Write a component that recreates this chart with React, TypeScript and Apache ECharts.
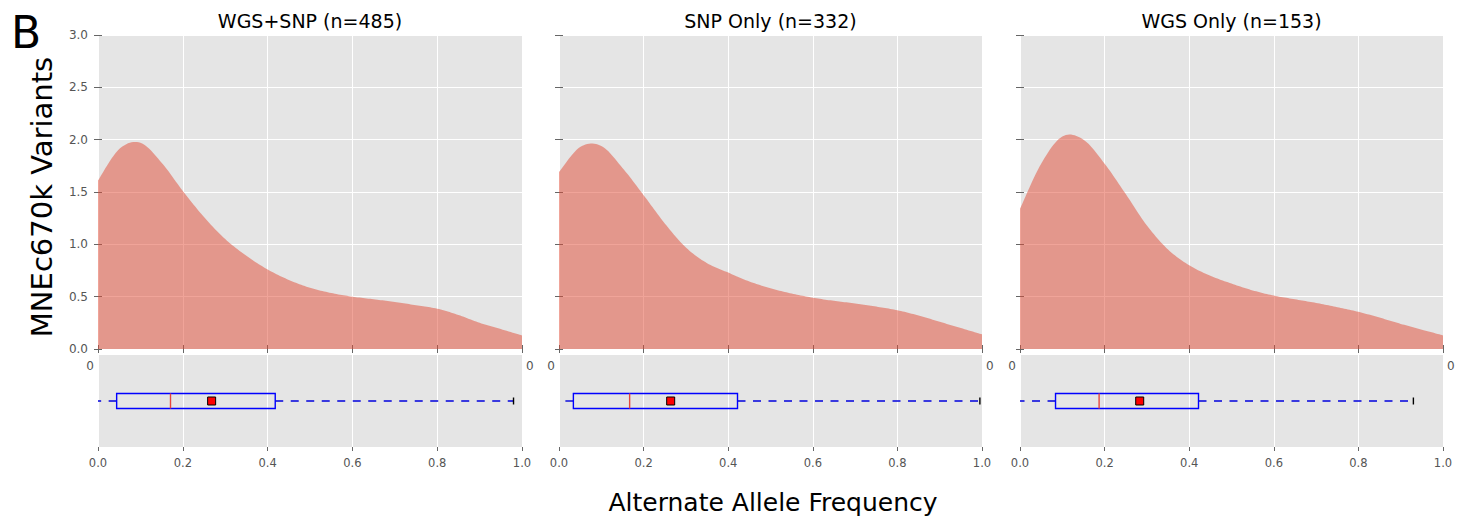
import React, { useEffect, useRef } from "react";
import * as echarts from "echarts";

// ---- data ----
const panelTitles = ["WGS+SNP (n=485)", "SNP Only (n=332)", "WGS Only (n=153)"];
const freqGrid = [0, 0.05, 0.1, 0.15, 0.2, 0.25, 0.3, 0.35, 0.4, 0.45, 0.5, 0.55, 0.6, 0.65, 0.7, 0.75, 0.8, 0.85, 0.9, 0.95, 1.0];
const densityWgsSnp = [1.61, 1.91, 1.97, 1.78, 1.51, 1.26, 1.05, 0.89, 0.76, 0.66, 0.585, 0.535, 0.5, 0.475, 0.45, 0.418, 0.385, 0.325, 0.25, 0.19, 0.13];
const densitySnpOnly = [1.69, 1.93, 1.94, 1.73, 1.47, 1.2, 0.97, 0.82, 0.73, 0.645, 0.58, 0.53, 0.49, 0.46, 0.435, 0.405, 0.37, 0.32, 0.26, 0.2, 0.14];
const densityWgsOnly = [1.34, 1.77, 2.03, 2.0, 1.77, 1.48, 1.18, 0.95, 0.8, 0.7, 0.625, 0.56, 0.51, 0.475, 0.44, 0.4, 0.355, 0.3, 0.24, 0.185, 0.13];
const densities = [densityWgsSnp, densitySnpOnly, densityWgsOnly];
// [min, q1, median, q3, max]
const boxWgsSnp = [0, 0.044, 0.171, 0.418, 0.98];
const boxSnpOnly = [0, 0.034, 0.167, 0.422, 0.995];
const boxWgsOnly = [0, 0.084, 0.187, 0.422, 0.93];
const boxes = [boxWgsSnp, boxSnpOnly, boxWgsOnly];
const means = [0.268, 0.264, 0.283];

const FONT = "DejaVu Sans";
const lefts = [98, 559, 1020];
const widths = [424, 423, 423];
const TOP_Y = 35, TOP_H = 314, BOT_Y = 355, BOT_H = 92;

// Catmull-Rom through pixel points (rendering only)
function splinePoints(pts: number[][], steps = 12): number[][] {
  const out: number[][] = [];
  const n = pts.length;
  for (let i = 0; i < n - 1; i++) {
    const p0 = pts[Math.max(0, i - 1)];
    const p1 = pts[i];
    const p2 = pts[i + 1];
    const p3 = pts[Math.min(n - 1, i + 2)];
    for (let s = 0; s < steps; s++) {
      const t = s / steps;
      const t2 = t * t, t3 = t2 * t;
      const f = (a: number, b: number, c: number, d: number) =>
        0.5 * (2 * b + (-a + c) * t + (2 * a - 5 * b + 4 * c - d) * t2 + (-a + 3 * b - 3 * c + d) * t3);
      out.push([f(p0[0], p1[0], p2[0], p3[0]), f(p0[1], p1[1], p2[1], p3[1])]);
    }
  }
  out.push(pts[n - 1]);
  return out;
}

export default function App() {
  const ref = useRef<HTMLDivElement>(null);
  useEffect(() => {
    document.body.style.margin = "0";
    const chart = echarts.init(ref.current!, null, { renderer: "svg" });
    const grids: any[] = [];
    const xAxes: any[] = [];
    const yAxes: any[] = [];
    const series: any[] = [];
    const graphics: any[] = [];
    const tick = { show: true, inside: false, length: 4, lineStyle: { color: "#666", width: 1 } };
    const split = { show: true, lineStyle: { color: "#ffffff", width: 1 } };

    for (let p = 0; p < 3; p++) {
      grids.push({ left: lefts[p], width: widths[p], top: TOP_Y, height: TOP_H, show: true, backgroundColor: "#E5E5E5", borderWidth: 0 });
      const gTop = grids.length - 1;
      grids.push({ left: lefts[p], width: widths[p], top: BOT_Y, height: BOT_H, show: true, backgroundColor: "#E5E5E5", borderWidth: 0 });
      const gBot = grids.length - 1;

      const xBase = { type: "value", min: 0, max: 1, interval: 0.2, axisLine: { show: false } };
      xAxes.push({ ...xBase, gridIndex: gTop, position: "bottom", axisTick: tick, axisLabel: { show: false }, splitLine: split });
      const xTopIdx = xAxes.length - 1;
      xAxes.push({ ...xBase, gridIndex: gTop, position: "top", axisTick: tick, axisLabel: { show: false }, splitLine: { show: false } });
      xAxes.push({
        ...xBase, gridIndex: gBot, position: "bottom", axisTick: tick, splitLine: split,
        axisLabel: { show: true, color: "#555", fontSize: 11.5, fontFamily: FONT, margin: 10, formatter: (v: number) => v.toFixed(1) },
      });
      const xBotIdx = xAxes.length - 1;

      const yBase = { type: "value", min: 0, max: 3, interval: 0.5, axisLine: { show: false } };
      yAxes.push({
        ...yBase, gridIndex: gTop, position: "left", axisTick: tick, splitLine: split,
        axisLabel: { show: p === 0, color: "#555", fontSize: 12, fontFamily: FONT, margin: 10, formatter: (v: number) => v.toFixed(1) },
      });
      const yTopIdx = yAxes.length - 1;
      yAxes.push({ ...yBase, gridIndex: gTop, position: "right", axisTick: tick, axisLabel: { show: false }, splitLine: { show: false } });
      yAxes.push({ type: "value", gridIndex: gBot, min: 0, max: 2, show: false });
      const yBotIdx = yAxes.length - 1;

      const dens = densities[p];
      series.push({
        type: "custom",
        xAxisIndex: xTopIdx,
        yAxisIndex: yTopIdx,
        data: freqGrid.map((x, j) => [x, dens[j]]),
        renderItem: (params: any, api: any) => {
          if (params.dataIndex !== 0) return null;
          const pix = freqGrid.map((x, j) => api.coord([x, dens[j]]));
          const curve = splinePoints(pix);
          const base0 = api.coord([freqGrid[0], 0]);
          const base1 = api.coord([freqGrid[freqGrid.length - 1], 0]);
          return {
            type: "polygon",
            shape: { points: [base0, ...curve, base1] },
            style: { fill: "#E24A33", opacity: 0.5 },
          };
        },
        silent: true,
      });

      series.push({
        type: "custom",
        xAxisIndex: xBotIdx,
        yAxisIndex: yBotIdx,
        data: [[...boxes[p], 1]],
        renderItem: (params: any, api: any) => {
          const cy = api.value(5);
          const pMin = api.coord([api.value(0), cy]);
          const pQ1 = api.coord([api.value(1), cy]);
          const pMed = api.coord([api.value(2), cy]);
          const pQ3 = api.coord([api.value(3), cy]);
          const pMax = api.coord([api.value(4), cy]);
          const y = pMed[1];
          const hh = 7.5;
          const dash = { stroke: "#0000dd", lineWidth: 1.4, lineDash: [8, 7.5] };
          return {
            type: "group",
            children: [
              { type: "line", shape: { x1: pQ1[0], y1: y, x2: pMin[0], y2: y }, style: dash },
              { type: "line", shape: { x1: pQ3[0], y1: y, x2: pMax[0], y2: y }, style: dash },
              { type: "rect", shape: { x: pQ1[0], y: y - hh, width: pQ3[0] - pQ1[0], height: hh * 2 }, style: { fill: "none", stroke: "#0000ff", lineWidth: 1.4 } },
              { type: "line", shape: { x1: pMed[0], y1: y - hh, x2: pMed[0], y2: y + hh }, style: { stroke: "#e8453c", lineWidth: 1.4 } },
              { type: "line", shape: { x1: pMax[0], y1: y - 3.5, x2: pMax[0], y2: y + 3.5 }, style: { stroke: "#000000", lineWidth: 1.4 } },
            ],
          };
        },
        silent: true,
      });

      series.push({
        type: "scatter",
        xAxisIndex: xBotIdx,
        yAxisIndex: yBotIdx,
        data: [[means[p], 1]],
        symbol: "rect",
        symbolSize: 8,
        itemStyle: { color: "#ff0000", borderColor: "#000000", borderWidth: 1, opacity: 1 },
        z: 5,
        silent: true,
      });

      graphics.push({
        type: "text", x: lefts[p] + widths[p] / 2, y: 21,
        style: { text: panelTitles[p], font: `19px '${FONT}'`, fill: "#000", textAlign: "center", textVerticalAlign: "middle" },
      });
      graphics.push({
        type: "text", x: lefts[p] - 4, y: 366,
        style: { text: "0", font: `12px '${FONT}'`, fill: "#555", textAlign: "right", textVerticalAlign: "middle" },
      });
      graphics.push({
        type: "text", x: lefts[p] + widths[p] + 4, y: 366,
        style: { text: "0", font: `12px '${FONT}'`, fill: "#555", textAlign: "left", textVerticalAlign: "middle" },
      });
    }

    graphics.push({
      type: "text", x: 11, y: 32,
      style: { text: "B", font: `44px '${FONT}'`, fill: "#000", textAlign: "left", textVerticalAlign: "middle" },
    });
    graphics.push({
      type: "text", x: 42, y: 197, rotation: Math.PI / 2,
      style: { text: "MNEc670k Variants", font: `29px '${FONT}'`, fill: "#000", textAlign: "center", textVerticalAlign: "middle" },
    });
    graphics.push({
      type: "text", x: 773, y: 502,
      style: { text: "Alternate Allele Frequency", font: `25px '${FONT}'`, fill: "#000", textAlign: "center", textVerticalAlign: "middle" },
    });

    chart.setOption({
      animation: false,
      backgroundColor: "#ffffff",
      grid: grids,
      xAxis: xAxes,
      yAxis: yAxes,
      series,
      graphic: graphics,
    });
    return () => chart.dispose();
  }, []);
  return <div ref={ref} style={{ width: 1459, height: 517 }} />;
}
